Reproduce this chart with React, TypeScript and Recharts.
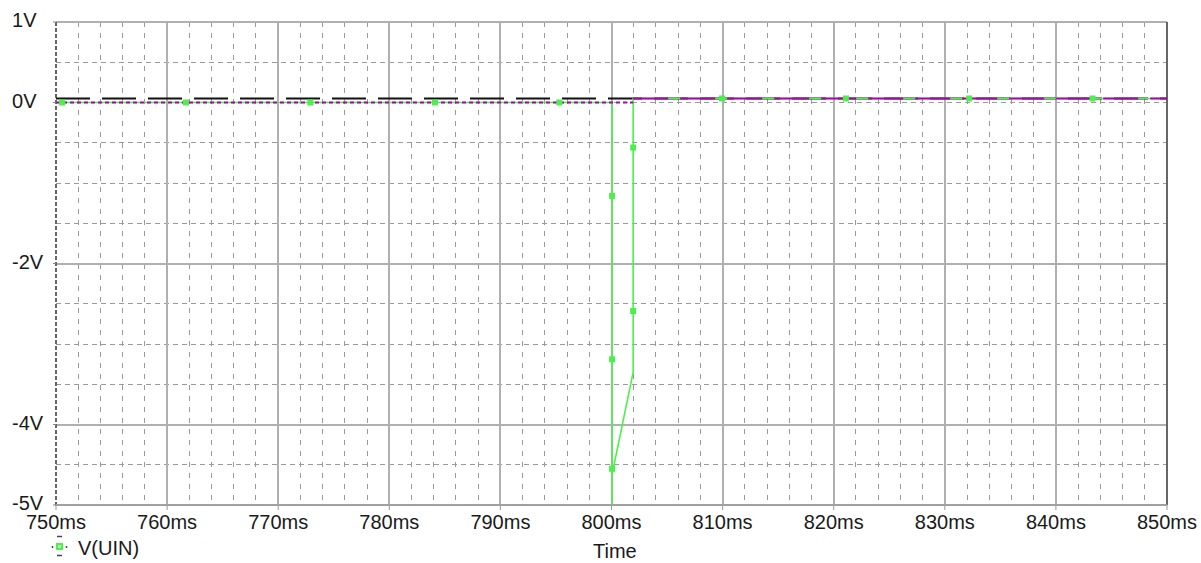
import { LineChart, Line, XAxis, YAxis, CartesianGrid } from 'recharts';

// time axis (ms)
const xMajorTicks = [750, 760, 770, 780, 790, 800, 810, 820, 830, 840, 850];
const xMinorTicks = [
  752, 754, 756, 758, 762, 764, 766, 768, 772, 774, 776, 778, 782, 784, 786, 788,
  792, 794, 796, 798, 802, 804, 806, 808, 812, 814, 816, 818, 822, 824, 826, 828,
  832, 834, 836, 838, 842, 844, 846, 848,
];

// voltage axis (V)
const yTicks = [1, 0, -2, -4, -5];
const yMajorGrid = [1, -2, -4];
const yMinorGrid = [0.5, 0, -0.5, -1, -1.5, -2.5, -3, -3.5, -4.5];

// V(UIN) trace
const uinTrace = [
  { t: 750, v: 0 },
  { t: 800.05, v: 0 },
  { t: 800.05, v: -5 },
  { t: 800.05, v: -4.62 },
  { t: 801.95, v: -3.35 },
  { t: 801.95, v: 0.05 },
  { t: 850, v: 0.05 },
];

// V(UIN) symbol markers
const uinMarkers = [
  { t: 750.55, v: 0 },
  { t: 761.7, v: 0 },
  { t: 772.9, v: 0 },
  { t: 784.1, v: 0 },
  { t: 795.3, v: 0 },
  { t: 800.05, v: -1.16 },
  { t: 800.05, v: -3.19 },
  { t: 800.05, v: -4.55 },
  { t: 801.95, v: -2.59 },
  { t: 801.95, v: -0.56 },
  { t: 809.95, v: 0.05 },
  { t: 821.1, v: 0.05 },
  { t: 832.2, v: 0.05 },
  { t: 843.3, v: 0.05 },
];

const purpleBefore = [
  { t: 750, v: 0 },
  { t: 801.95, v: 0 },
];
const purpleAfter = [
  { t: 801.95, v: 0.05 },
  { t: 850, v: 0.05 },
];
const blackTrace = [
  { t: 750, v: 0.05 },
  { t: 850, v: 0.05 },
];

const GREEN = '#4cf04c';
const FONT = '"Liberation Sans", Arial, sans-serif';

const squareDot = (props: any) => {
  const { cx, cy, index } = props;
  if (cx == null || cy == null) return <g key={`d${index}`} />;
  return <rect key={`d${index}`} x={cx - 3} y={cy - 3} width={6} height={6} fill={GREEN} />;
};

const YTick = (props: any) => {
  const { y, payload } = props;
  return (
    <text x={12} y={y - 2} dominantBaseline="central" fontSize={20} fontFamily={FONT} fill="#1a1a1a">
      {payload.value}V
    </text>
  );
};

// minor vertical grid positions through the x axis scale
const minorVertical = (args: any) => {
  const { xAxis, offset } = args;
  const scale = xAxis?.scale;
  if (typeof scale === 'function') return xMinorTicks.map((t) => scale(t));
  return xMinorTicks.map((t) => offset.left + ((t - 750) / 100) * offset.width);
};

export default function App() {
  return (
    <div style={{ position: 'absolute', left: 0, top: 0, width: 1201, height: 563, background: '#fff', fontFamily: FONT }}>
      <LineChart width={1201} height={563} margin={{ top: 22, right: 34, bottom: 28, left: 0 }}>
        <CartesianGrid horizontal={false} verticalCoordinatesGenerator={minorVertical} stroke="#9a9a9a" strokeDasharray="5 6" shapeRendering="crispEdges" />
        <CartesianGrid vertical={false} horizontalValues={yMinorGrid} stroke="#9a9a9a" strokeDasharray="5 4" shapeRendering="crispEdges" />
        <CartesianGrid horizontal={false} verticalValues={xMajorTicks.slice(1, -1)} stroke="#b0b0b0" strokeWidth={2} shapeRendering="crispEdges" />
        <CartesianGrid vertical={false} horizontalValues={yMajorGrid} stroke="#b0b0b0" strokeWidth={2} shapeRendering="crispEdges" />
        <CartesianGrid horizontal={false} verticalValues={[750]} stroke="#666" strokeWidth={2} strokeDasharray="4 2" shapeRendering="crispEdges" />
        <CartesianGrid horizontal={false} verticalValues={[850]} stroke="#666" strokeWidth={2} shapeRendering="crispEdges" />
        <XAxis
          dataKey="t"
          type="number"
          domain={[750, 850]}
          ticks={xMajorTicks}
          tickFormatter={(v: number) => `${v}ms`}
          tick={{ fontSize: 20, fill: '#1a1a1a', fontFamily: FONT }}
          tickLine={{ stroke: '#999' }}
          tickSize={5}
          tickMargin={5}
          axisLine={{ stroke: '#a0a0a0', strokeWidth: 2 }}
          height={30}
          allowDataOverflow
        />
        <YAxis
          type="number"
          domain={[-5, 1]}
          ticks={yTicks}
          tick={<YTick />}
          width={56}
          axisLine={false}
          tickLine={{ stroke: '#888' }}
          tickSize={3}
          allowDataOverflow
        />
        <Line data={blackTrace} dataKey="v" stroke="#111" strokeWidth={2} strokeDasharray="34 12" dot={false} activeDot={false} isAnimationActive={false} />
        <Line data={uinTrace} dataKey="v" stroke={GREEN} strokeWidth={1.6} dot={false} activeDot={false} isAnimationActive={false} />
        <Line data={purpleBefore} dataKey="v" stroke="#b000b0" strokeWidth={2} strokeDasharray="4 3" dot={false} activeDot={false} isAnimationActive={false} />
        <Line data={purpleAfter} dataKey="v" stroke="#b000b0" strokeWidth={2} strokeDasharray="35 12" dot={false} activeDot={false} isAnimationActive={false} />
        <Line data={uinMarkers} dataKey="v" stroke="none" dot={squareDot} activeDot={false} isAnimationActive={false} />
      </LineChart>
      <svg style={{ position: 'absolute', left: 50, top: 532 }} width={20} height={28}>
        <rect x={6} y={11} width={7} height={7} fill={GREEN} />
        <rect x={8} y={13} width={3} height={3} fill="#b8ffb8" />
        <line x1={7} y1={4.5} x2={12} y2={4.5} stroke="#444" strokeWidth={1.5} />
        <line x1={7} y1={23.5} x2={12} y2={23.5} stroke="#444" strokeWidth={1.5} />
        <line x1={2.5} y1={14} x2={2.5} y2={16} stroke="#444" strokeWidth={1.5} />
        <line x1={16.5} y1={14} x2={16.5} y2={16} stroke="#444" strokeWidth={1.5} />
      </svg>
      <div style={{ position: 'absolute', left: 78, top: 537, fontSize: 20, lineHeight: '23px', color: '#1a1a1a' }}>V(UIN)</div>
      <div style={{ position: 'absolute', left: 593, top: 540, fontSize: 20, lineHeight: '23px', color: '#1a1a1a' }}>Time</div>
    </div>
  );
}
